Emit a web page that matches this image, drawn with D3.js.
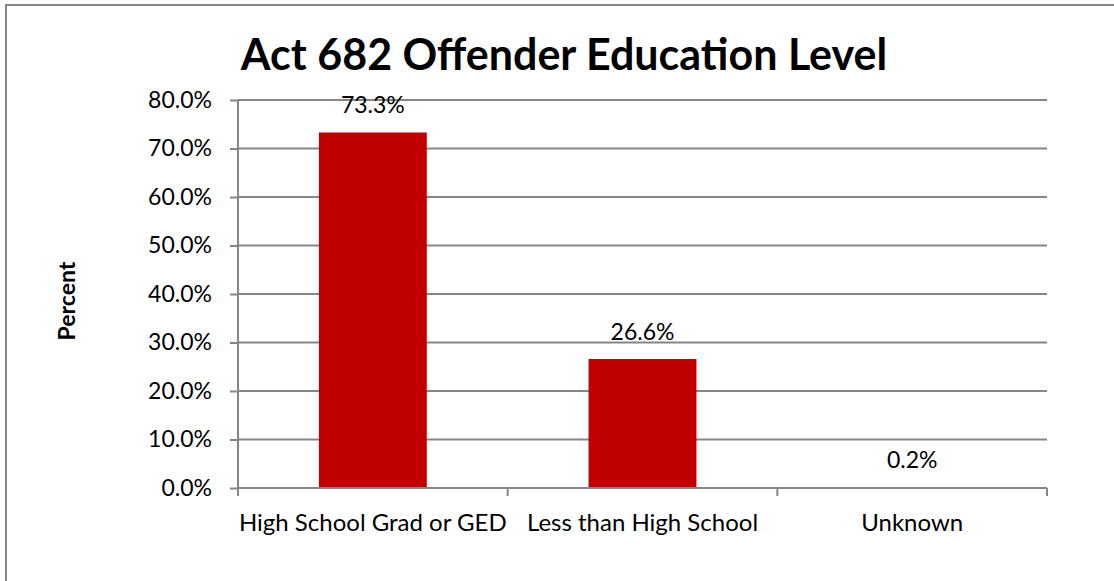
<!DOCTYPE html>
<html><head><meta charset="utf-8">
<script src="https://cdn.jsdelivr.net/npm/d3@7/dist/d3.min.js"></script>
<style>body{margin:0;background:#fff}svg{display:block}</style>
</head><body><svg id="c" width="1114" height="581"></svg>
<script>
const categories = ["High School Grad or GED", "Less than High School", "Unknown"];
const values = [73.3, 26.6, 0.2];
const valueLabels = ["73.3%", "26.6%", "0.2%"];
const yTicks = [0, 10, 20, 30, 40, 50, 60, 70, 80];
const title = "Act 682 Offender Education Level";
const yTitle = "Percent";

const svg = d3.select("#c");
const font = "Lato, 'Open Sans', sans-serif";
const m = {left: 238, right: 1047, top: 100, bottom: 488};

svg.append("rect").attr("x", 6).attr("y", 5).attr("width", 1130).attr("height", 600)
  .attr("fill", "#fff").attr("stroke", "#868686").attr("stroke-width", 2);

const xb = d3.scaleBand().domain(categories).range([m.left, m.right]);
const y = d3.scaleLinear().domain([0, 80]).range([m.bottom, m.top]);

// gridlines
svg.append("g").selectAll("line").data(yTicks.filter(d => d > 0)).join("line")
  .attr("x1", m.left).attr("x2", m.right).attr("y1", d => y(d)).attr("y2", d => y(d))
  .attr("stroke", "#868686").attr("stroke-width", 2);

// bars
svg.append("g").selectAll("rect").data(values).join("rect")
  .attr("x", (d, i) => xb(categories[i]) + xb.bandwidth() * 0.3)
  .attr("width", xb.bandwidth() * 0.4)
  .attr("y", d => y(d)).attr("height", d => y(0) - y(d))
  .attr("fill", "#C00000");

// y axis
const ya = svg.append("g").attr("transform", `translate(${m.left},0)`)
  .call(d3.axisLeft(y).tickValues(yTicks).tickSize(8).tickPadding(18).tickFormat(d => d.toFixed(1) + "%"));
ya.select(".domain").attr("stroke", "#868686").attr("stroke-width", 2).attr("d", `M0,${m.top}V${m.bottom}`);
ya.selectAll(".tick line").attr("stroke", "#868686").attr("stroke-width", 2);
ya.selectAll(".tick text").attr("font-family", font).attr("font-size", 23).attr("fill", "#000");

// x axis
const xa = svg.append("g").attr("transform", `translate(0,${m.bottom})`)
  .call(d3.axisBottom(xb).tickSize(0).tickPadding(26));
xa.select(".domain").attr("stroke", "#868686").attr("stroke-width", 2).attr("d", `M${m.left},0H${m.right}`);
xa.selectAll(".tick text").attr("font-family", font).attr("font-size", 24).attr("fill", "#000");
const bounds = categories.map(c => xb(c)).concat([m.right]);
xa.append("g").selectAll("line").data(bounds).join("line")
  .attr("x1", d => d).attr("x2", d => d).attr("y1", 0).attr("y2", 8)
  .attr("stroke", "#868686").attr("stroke-width", 2);

// data labels
svg.append("g").selectAll("text").data(values).join("text")
  .attr("x", (d, i) => xb(categories[i]) + xb.bandwidth() / 2)
  .attr("y", d => y(d) - 19)
  .attr("text-anchor", "middle").attr("font-family", font).attr("font-size", 23).attr("fill", "#000")
  .text((d, i) => valueLabels[i]);

// title
svg.append("text").attr("x", 564).attr("y", 70).attr("text-anchor", "middle")
  .attr("font-family", font).attr("font-weight", "bold").attr("font-size", 43).attr("fill", "#000").text(title);

// y title
svg.append("text").attr("transform", "translate(75,301) rotate(-90)").attr("text-anchor", "middle")
  .attr("font-family", font).attr("font-weight", "bold").attr("font-size", 23).attr("fill", "#000").text(yTitle);
</script></body></html>
